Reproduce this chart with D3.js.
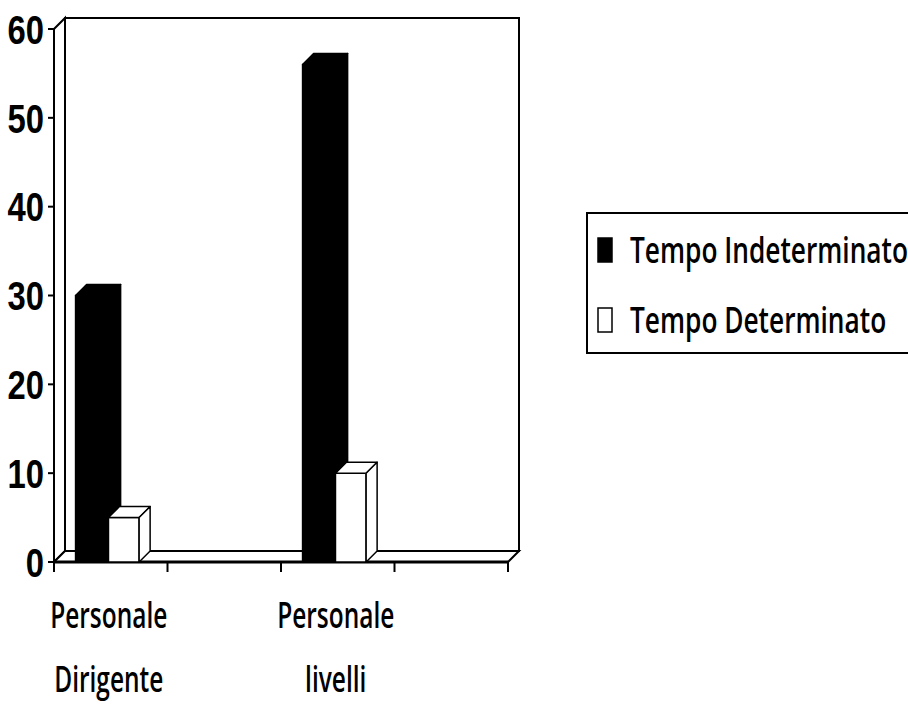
<!DOCTYPE html>
<html>
<head>
<meta charset="utf-8">
<script src="https://cdn.jsdelivr.net/npm/d3@7"></script>
<style>
  body { margin: 0; background: #fff; }
  svg { display: block; }
  .tick-label { font-family: "Liberation Sans Narrow", "Liberation Sans", Arial, sans-serif; font-weight: bold; }
  .comic { font-family: "Comic Sans MS", "Open Sans", "Noto Sans", sans-serif; font-weight: 600; }
</style>
</head>
<body>
<div id="chart"></div>
<script>
// data
var categories = ["Personale Dirigente", "", "Personale livelli", ""];
var seriesNames = ["Tempo Indeterminato", "Tempo Determinato"];
var indeterminato = [30, null, 56, null];
var determinato = [5, null, 10, null];
var yTicks = [0, 10, 20, 30, 40, 50, 60];

var W = 908, H = 707;
var depth = 11;   // 3d offset, right and up
var plotLeft = 54, plotRight = 508, plotTop = 29, plotBottom = 562;

var svg = d3.select("#chart").append("svg")
    .attr("width", W)
    .attr("height", H);

var x = d3.scaleBand()
    .domain(d3.range(categories.length))
    .range([plotLeft, plotRight]);

var y = d3.scaleLinear()
    .domain([0, 60])
    .range([plotBottom, plotTop]);

var line = d3.line();

// back wall
svg.append("rect")
    .attr("x", plotLeft + depth)
    .attr("y", y(60) - depth)
    .attr("width", plotRight - plotLeft)
    .attr("height", y(0) - y(60))
    .attr("fill", "#fff")
    .attr("stroke", "#000")
    .attr("stroke-width", 2);

// left side wall
svg.append("path")
    .attr("d", line([[plotLeft, y(0)], [plotLeft, y(60)], [plotLeft + depth, y(60) - depth], [plotLeft + depth, y(0) - depth]]) + "Z")
    .attr("fill", "#fff")
    .attr("stroke", "#000")
    .attr("stroke-width", 2);

// floor
svg.append("path")
    .attr("d", line([[plotLeft, y(0)], [plotLeft + depth, y(0) - depth], [plotRight + depth, y(0) - depth], [plotRight, y(0)]]) + "Z")
    .attr("fill", "#fff")
    .attr("stroke", "#000")
    .attr("stroke-width", 2);
svg.append("line")
    .attr("x1", plotLeft).attr("x2", plotRight)
    .attr("y1", y(0)).attr("y2", y(0))
    .attr("stroke", "#000")
    .attr("stroke-width", 3);

// bars
var bw = x.bandwidth();
function box(g, bx, w, v, fill) {
    var x0 = bx, x1 = bx + w, yt = y(v), yb = y(0);
    var faces = [
        [[x0, yb], [x0, yt], [x1, yt], [x1, yb]],
        [[x0, yt], [x0 + depth, yt - depth], [x1 + depth, yt - depth], [x1, yt]],
        [[x1, yb], [x1, yt], [x1 + depth, yt - depth], [x1 + depth, yb - depth]]
    ];
    g.selectAll(null)
        .data(faces)
        .enter()
        .append("path")
        .attr("d", function(d) { return line(d) + "Z"; })
        .attr("fill", fill)
        .attr("stroke", "#000")
        .attr("stroke-width", 1.5)
        .attr("stroke-linejoin", "round");
}

var bars = svg.append("g");
categories.forEach(function(c, i) {
    var cx = x(i) + bw / 2;
    if (indeterminato[i] != null) box(bars, cx - 0.31 * bw, 0.3 * bw, indeterminato[i], "#000");
    if (determinato[i] != null) box(bars, cx - 0.02 * bw, 0.27 * bw, determinato[i], "#fff");
});

// y axis
svg.append("line")
    .attr("x1", plotLeft).attr("x2", plotLeft)
    .attr("y1", y(0)).attr("y2", y(60))
    .attr("stroke", "#000")
    .attr("stroke-width", 2);

var yAxis = svg.append("g");
yAxis.selectAll("line")
    .data(yTicks)
    .enter()
    .append("line")
    .attr("x1", plotLeft - 6).attr("x2", plotLeft)
    .attr("y1", function(d) { return y(d); })
    .attr("y2", function(d) { return y(d); })
    .attr("stroke", "#000")
    .attr("stroke-width", 2);
yAxis.selectAll("text")
    .data(yTicks)
    .enter()
    .append("text")
    .attr("class", "tick-label")
    .attr("transform", function(d) { return "translate(" + (plotLeft - 10) + "," + y(d) + ") scale(0.8,1)"; })
    .attr("dy", "0.36em")
    .attr("text-anchor", "end")
    .style("font-size", "41px")
    .text(function(d) { return d; });

// x axis ticks
var xTickPos = x.domain().map(function(i) { return x(i); }).concat([plotRight]);
svg.append("g").selectAll("line")
    .data(xTickPos)
    .enter()
    .append("line")
    .attr("x1", function(d) { return d; })
    .attr("x2", function(d) { return d; })
    .attr("y1", y(0))
    .attr("y2", y(0) + 10)
    .attr("stroke", "#000")
    .attr("stroke-width", 2);

// category labels, two lines each
var catLabels = svg.append("g");
categories.forEach(function(c, i) {
    if (!c) return;
    var cx = x(i) + bw / 2 - 2;
    c.split(" ").forEach(function(word, k) {
        catLabels.append("text")
            .attr("class", "comic")
            .attr("transform", "translate(" + cx + "," + (628 + k * 64) + ") scale(0.68,1)")
            .attr("text-anchor", "middle")
            .style("font-size", "36px")
            .text(word);
    });
});

// legend
var legend = svg.append("g");
legend.append("rect")
    .attr("x", 587).attr("y", 213)
    .attr("width", 340).attr("height", 140)
    .attr("fill", "#fff")
    .attr("stroke", "#000")
    .attr("stroke-width", 2);
var legendFill = ["#000", "#fff"];
seriesNames.forEach(function(name, i) {
    var ly = 238 + i * 70;
    legend.append("rect")
        .attr("x", 598).attr("y", ly)
        .attr("width", 14).attr("height", 24)
        .attr("fill", legendFill[i])
        .attr("stroke", "#000")
        .attr("stroke-width", 1.5);
    legend.append("text")
        .attr("class", "comic")
        .attr("transform", "translate(630," + (ly + 25) + ") scale(0.73,1)")
        .style("font-size", "36px")
        .text(name);
});
</script>
</body>
</html>
